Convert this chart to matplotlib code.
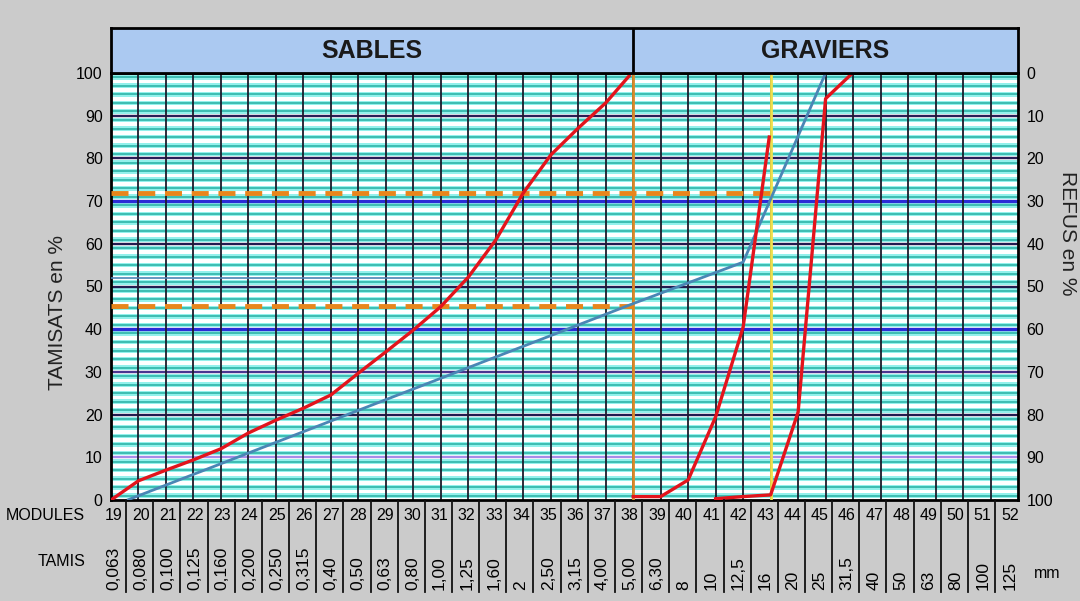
import numpy as np
import matplotlib
matplotlib.use("Agg")
import matplotlib.pyplot as plt

plt.rcParams['font.family'] = ['Liberation Sans', 'DejaVu Sans']

# sieve series (modules AFNOR 19..52) and opening sizes in mm
modules = list(range(19, 53))
tamis = ['0,063', '0,080', '0,100', '0,125', '0,160', '0,200', '0,250', '0,315',
         '0,40', '0,50', '0,63', '0,80', '1,00', '1,25', '1,60', '2', '2,50', '3,15',
         '4,00', '5,00', '6,30', '8', '10', '12,5', '16', '20', '25', '31,5', '40',
         '50', '63', '80', '100', '125']

# passing curves (module, % passing)
sand_mod = [19, 20, 21, 22, 23, 24, 25, 26, 27, 28, 29, 30, 31, 32, 33, 34, 35, 36, 37, 37.85]
sand_pct = [0, 4.5, 7, 9.4, 12, 15.7, 18.7, 21.5, 24.6, 29.7, 34.7, 39.8, 45.3, 52.2,
            60.9, 71.9, 80.8, 87.1, 93, 99.3]
grav1_mod = [38, 39, 40, 41, 42, 42.95]
grav1_pct = [0.8, 0.8, 4.7, 19.5, 40.5, 85]
grav2_mod = [41, 42, 43, 44, 45, 45.9]
grav2_pct = [0.3, 0.8, 1.2, 20.6, 94, 99.5]
ref_mod = [19.6, 38, 42, 45]
ref_pct = [0, 46, 55.7, 100]

# reference levels
upper_level, upper_end = 72, 43
lower_level, lower_end = 45.5, 38
blue_level, blue_end = 52, 38
sand_limit = 38
mark_16 = 43

W, H = 1080, 601
fig = plt.figure(figsize=(W / 100, H / 100), dpi=100, facecolor='#cbcbcb')

xmin, xmax = 19, 52
ax = fig.add_axes([111 / W, 101 / H, 907 / W, 427 / H])
ax.set_xlim(xmin, xmax)
ax.set_ylim(0, 100)
ax.set_facecolor('white')

# striped background: teal rule with a cyan halo every 2 %
for v in range(1, 100, 2):
    ax.axhspan(v - 0.55, v + 0.55, color='#93f1ec', lw=0, zorder=0)
    ax.axhline(v, color='#3dbdb2', lw=1.4, zorder=1)

major_colors = {10: '#a78ce8', 20: '#231c50', 30: '#4b3590', 40: '#2b2bd6', 50: '#231c50',
                60: '#231c50', 70: '#2b2bd6', 80: '#2a1f58', 90: '#2a1f58'}
for v, c in major_colors.items():
    ax.axhline(v, color=c, lw=2.4 if c == '#2b2bd6' else 1.7, zorder=2)

for m in modules[1:-1]:
    ax.axvline(m, color='#1c1c2c', lw=1.3, zorder=2)
ax.axvline(sand_limit, color='#d98a28', lw=2, zorder=3)
ax.axvline(mark_16, color='#f0e04a', lw=2, zorder=3)

ax.plot([xmin, blue_end], [blue_level, blue_level], color='#4a86b5', lw=1.2, zorder=3)
ax.plot([xmin, upper_end], [upper_level, upper_level], color='#e8861c', lw=3.5,
        dashes=(3.5, 2), zorder=4)
ax.plot([xmin, lower_end], [lower_level, lower_level], color='#e8861c', lw=3.5,
        dashes=(3.5, 2), zorder=4)

ax.plot(ref_mod, ref_pct, color='#4a86b5', lw=2, zorder=5)
for xs, ys in [(sand_mod, sand_pct), (grav1_mod, grav1_pct), (grav2_mod, grav2_pct)]:
    ax.plot(xs, ys, color='#e3141c', lw=2.4, zorder=6)

for s in ax.spines.values():
    s.set_linewidth(2)
    s.set_color('black')
ax.set_xticks([])
ax.set_yticks(range(0, 101, 10))
ax.tick_params(axis='y', length=0, pad=6, labelsize=11.5)

ax2 = ax.twinx()
ax2.set_ylim(100, 0)
ax2.set_yticks(range(0, 101, 10))
ax2.tick_params(axis='y', length=0, pad=6, labelsize=11.5)
for s in ax2.spines.values():
    s.set_visible(False)

fig.text(58 / W, 1 - 312 / H, 'TAMISATS en %', rotation=90, ha='center', va='center',
         fontsize=15, color='#222222')
fig.text(1068 / W, 1 - 233 / H, 'REFUS en %', rotation=-90, ha='center', va='center',
         fontsize=15, color='#222222')

# header band
hd = fig.add_axes([111 / W, 528 / H, 907 / W, 45 / H])
hd.set_xlim(xmin, xmax)
hd.set_ylim(0, 1)
hd.set_facecolor('#abc9f1')
hd.set_xticks([])
hd.set_yticks([])
for s in hd.spines.values():
    s.set_linewidth(2)
hd.axvline(sand_limit, color='black', lw=2)
hd.text((xmin + sand_limit) / 2, 0.5, 'SABLES', ha='center', va='center', fontsize=18,
        fontweight='bold', color='#1a1a1a')
hd.text((sand_limit + xmax) / 2, 0.5, 'GRAVIERS', ha='center', va='center', fontsize=18,
        fontweight='bold', color='#1a1a1a')

# bottom table of modules and sieve sizes (columns drift slightly left)
tb = fig.add_axes([111 / W, 9 / H, 907 / W, 92 / H])
tb.set_xlim(xmin, xmax)
tb.set_ylim(0, 92)
tb.axis('off')
drift = 0.012
for k, m in enumerate(modules[:-1]):
    xs = m + 0.55 - drift * k
    tb.plot([xs, xs], [0, 92], color='#111111', lw=1.3, clip_on=False)
for k, (m, t) in enumerate(zip(modules, tamis)):
    xc = m + 0.1 - drift * k
    tb.text(xc, 76, str(m), ha='center', va='center', fontsize=11.5, clip_on=False)
    tb.text(xc, 2, t, ha='center', va='bottom', rotation=90, fontsize=12.5, clip_on=False)

fig.text(85 / W, 1 - 516 / H, 'MODULES', ha='right', va='center', fontsize=11.5)
fig.text(85 / W, 1 - 562 / H, 'TAMIS', ha='right', va='center', fontsize=11.5)
fig.text(1047 / W, 1 - 574 / H, 'mm', ha='center', va='center', fontsize=11.5)

fig.savefig('out.png', dpi=100, facecolor=fig.get_facecolor())
